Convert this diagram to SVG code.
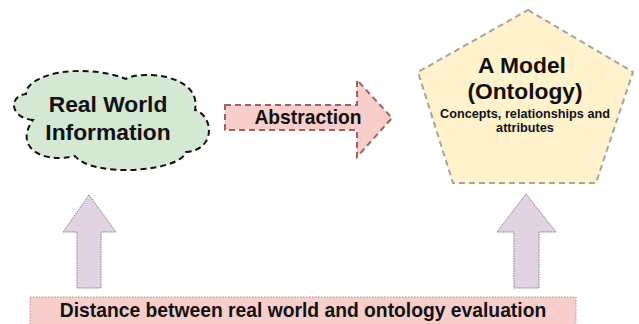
<svg xmlns="http://www.w3.org/2000/svg" width="639" height="324" viewBox="0 0 639 324">
<style>
text{font-family:"Liberation Sans",Arial,sans-serif;font-weight:bold;fill:#111;text-anchor:middle}
.big{font-size:22.8px}
.mid{font-size:19.3px}
.small{font-size:12.7px}
.up{fill:#e1d3e1;stroke:#8a7a88;stroke-width:1;stroke-dasharray:1.5 1}
</style>
<rect width="639" height="324" fill="#ffffff"/>
<g id="cloud">
<path d="M 33 120 C 10 118, 8 96, 26 94 C 26 74, 82 62, 126 79 C 140 70, 202 74, 195 110 C 214 116, 216 150, 186 152 C 180 172, 92 178, 75 156 C 40 164, 14 146, 33 120 Z" fill="#d5e8d4" stroke="#111" stroke-width="2" stroke-dasharray="6 4"/>
<text class="big" x="108" y="112">Real World</text>
<text class="big" x="108" y="140">Information</text>
</g>
<g id="abstraction">
<path d="M 225 105 L 357 105 L 357 80 L 392 118 L 357 157 L 357 130 L 225 130 Z" fill="#f8cecc" stroke="#a0605e" stroke-width="2" stroke-dasharray="6 4"/>
<text class="mid" x="308" y="124">Abstraction</text>
</g>
<g id="model">
<path d="M 528 10 L 633 72 L 596 183 L 453 183 L 418 72 Z" fill="#fff2cc" stroke="#a8a49a" stroke-width="2" stroke-dasharray="6 4"/>
<text class="big" x="522" y="73">A Model</text>
<text class="big" x="525" y="99">(Ontology)</text>
<text class="small" x="525" y="118">Concepts, relationships and</text>
<text class="small" x="525" y="132">attributes</text>
</g>
<g id="evaluation">
<rect x="30" y="297" width="546" height="30" fill="#f8cecc" stroke="#b09090" stroke-width="1" stroke-dasharray="1.5 1.5"/>
<text class="mid" x="303" y="317">Distance between real world and ontology evaluation</text>
</g>
<g id="connectors">
<path class="up" d="M 89 195 L 116 232 L 101 232 L 101 288 L 77 288 L 77 232 L 63 232 Z"/>
<path class="up" d="M 526 194 L 556 232 L 539 232 L 539 288 L 514 288 L 514 232 L 497 232 Z"/>
</g>
</svg>
